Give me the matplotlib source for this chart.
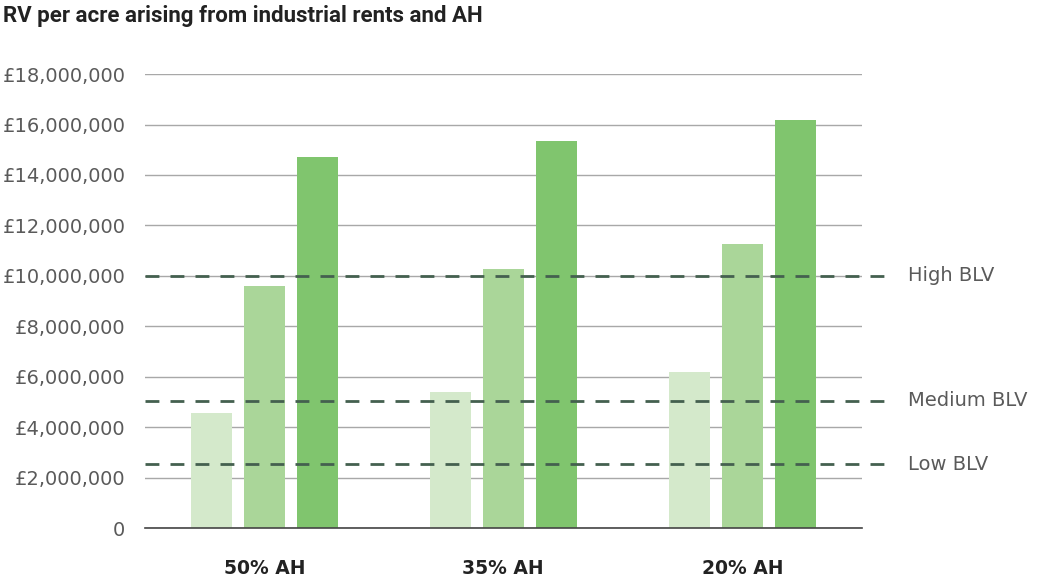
import matplotlib

matplotlib.use("Agg")

import matplotlib.pyplot as plt
import numpy as np
from matplotlib.ticker import FuncFormatter

categories = ["50% AH", "35% AH", "20% AH"]
# three rent scenarios per AH level, RV per acre in £
rv_low = [4_560_000, 5_390_000, 6_190_000]
rv_mid = [9_600_000, 10_270_000, 11_260_000]
rv_high = [14_710_000, 15_350_000, 16_180_000]
blv_names = ["High BLV", "Medium BLV", "Low BLV"]
blv_values = [10_000_000, 5_050_000, 2_530_000]
y_ticks = np.arange(0, 18_000_001, 2_000_000)

BAR_COLORS = ["#d4e9cb", "#aad699", "#80c56e"]
DASH_COLOR = "#44604f"
GRID_COLOR = "#a8a8a8"
TEXT_COLOR = "#5a5a5a"
BODY_FONT = ["DejaVu Sans"]

plt.rcParams["font.family"] = ["Roboto", "DejaVu Sans"]

fig = plt.figure(figsize=(10.42, 5.79), dpi=100)
ax = fig.add_axes([0.139, 0.088, 0.688, 0.784])

x = np.arange(len(categories))
width = 0.172
step = 0.221
for i, (vals, color) in enumerate(zip([rv_low, rv_mid, rv_high], BAR_COLORS)):
    ax.bar(x + (i - 1) * step, vals, width=width, color=color, zorder=2)

ax.set_xlim(-0.5, 2.5)
ax.set_ylim(0, 18_000_000)
ax.set_yticks(y_ticks)
ax.yaxis.set_major_formatter(FuncFormatter(lambda v, _: "0" if v == 0 else f"£{v:,.0f}"))
ax.set_xticks(x)
ax.set_xticklabels(categories, fontsize=13.5, fontweight="bold", color="#222222",
                   family=BODY_FONT)
ax.tick_params(axis="x", length=0, pad=22)
ax.tick_params(axis="y", length=0, pad=14, labelsize=14, labelcolor=TEXT_COLOR)
for lbl in ax.get_yticklabels():
    lbl.set_family(BODY_FONT)

ax.grid(axis="y", color=GRID_COLOR, linewidth=1, zorder=0)
ax.set_axisbelow(True)
for side in ["top", "right", "left"]:
    ax.spines[side].set_visible(False)
ax.spines["bottom"].set_color("#444444")
ax.spines["bottom"].set_linewidth(1.2)

# benchmark land values, drawn past the plot edge with a label
for name, val in zip(blv_names, blv_values):
    ax.plot([-0.5, 2.62], [val, val], color=DASH_COLOR, linestyle=(0, (5, 4)),
            linewidth=2, zorder=3, clip_on=False)
    ax.text(2.695, val, name, va="center", ha="left", fontsize=14,
            color=TEXT_COLOR, family=BODY_FONT)

fig.text(0.003, 0.972, "RV per acre arising from industrial rents and AH",
         fontsize=16, fontweight="bold", color="#222222", va="center", ha="left")

fig.savefig("out.png", dpi=100)
